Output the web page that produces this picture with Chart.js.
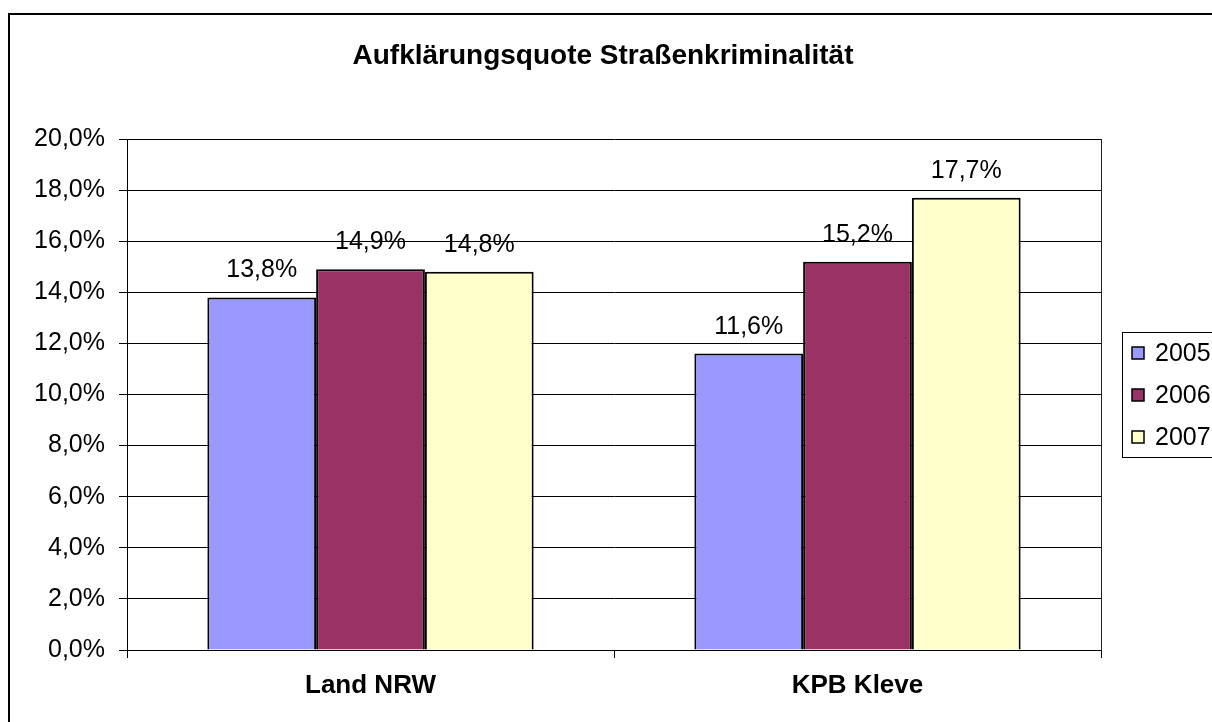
<!DOCTYPE html>
<html>
<head>
<meta charset="utf-8">
<script src="https://cdn.jsdelivr.net/npm/chart.js@4/dist/chart.umd.min.js"></script>
<style>
  body { margin: 0; background: #fff; }
  canvas { display: block; }
</style>
</head>
<body>
<canvas id="chart" width="1212" height="722"></canvas>
<script>
const chartCanvas = document.getElementById("chart");

// categories and years
const categories = ["Land NRW", "KPB Kleve"];
const years = ["2005", "2006", "2007"];

// quote in percent, one list per year
const values2005 = [13.8, 11.6];
const values2006 = [14.9, 15.2];
const values2007 = [14.8, 17.7];

// bar colors (excel default palette)
const barColors = ["#9999FF", "#993366", "#FFFFCC"];

const chartTitle = "Aufklärungsquote Straßenkriminalität";
const fontFamily = "'Liberation Sans', Arial, sans-serif";

const fmt = (v) => v.toFixed(1).replace(".", ",") + "%";

// labels above the bars
const valueLabels = {
  id: "valueLabels",
  afterDatasetsDraw(chart) {
    const ctx = chart.ctx;
    ctx.save();
    ctx.font = "25px " + fontFamily;
    ctx.fillStyle = "#000";
    ctx.textAlign = "center";
    ctx.textBaseline = "alphabetic";
    chart.data.datasets.forEach((ds, i) => {
      chart.getDatasetMeta(i).data.forEach((bar, j) => {
        ctx.fillText(fmt(ds.data[j]), bar.x, bar.y - 20);
      });
    });
    ctx.restore();
  },
};

// outer frame, title, plot frame and the legend box on the right
const frame = {
  id: "frame",
  beforeDraw(chart) {
    const ctx = chart.ctx;
    ctx.save();
    ctx.fillStyle = "#fff";
    ctx.fillRect(0, 0, chart.width, chart.height);
    ctx.strokeStyle = "#000";
    ctx.lineWidth = 2;
    ctx.strokeRect(9, 14, 1400, 900);

    // title is centred on the whole picture, not on the plot
    ctx.fillStyle = "#000";
    ctx.font = "bold 28px " + fontFamily;
    ctx.textAlign = "center";
    ctx.textBaseline = "alphabetic";
    ctx.fillText(chartTitle, 603, 64);
    ctx.restore();
  },
  afterDraw(chart) {
    const ctx = chart.ctx;
    const a = chart.chartArea;
    ctx.save();
    ctx.strokeStyle = "#222";
    ctx.lineWidth = 1;
    ctx.beginPath();
    ctx.moveTo(Math.round(a.right) + 0.5, a.top);
    ctx.lineTo(Math.round(a.right) + 0.5, a.bottom);
    ctx.stroke();

    // legend
    ctx.strokeStyle = "#000";
    ctx.strokeRect(1122.5, 332.5, 200, 125);
    ctx.font = "25px " + fontFamily;
    ctx.textBaseline = "middle";
    ctx.textAlign = "left";
    chart.data.datasets.forEach((ds, i) => {
      const cy = 353 + i * 42;
      ctx.fillStyle = ds.backgroundColor;
      ctx.fillRect(1132, cy - 6, 12, 12);
      ctx.strokeStyle = "#000";
      ctx.lineWidth = 1.5;
      ctx.strokeRect(1132, cy - 6, 12, 12);
      ctx.fillStyle = "#000";
      ctx.fillText(ds.label, 1155, cy + 1);
    });
    ctx.restore();
  },
};

let myChart = new Chart(chartCanvas, {
  type: "bar",
  plugins: [frame, valueLabels],
  data: {
    labels: categories,
    datasets: [
      { label: years[0], data: values2005, backgroundColor: barColors[0] },
      { label: years[1], data: values2006, backgroundColor: barColors[1] },
      { label: years[2], data: values2007, backgroundColor: barColors[2] },
    ].map((d) => ({
      ...d,
      borderColor: "#000",
      borderWidth: 2,
      categoryPercentage: 0.67,
      barPercentage: 1.0,
    })),
  },
  options: {
    responsive: false,
    animation: false,
    layout: { padding: { left: 0, right: 111, top: 139, bottom: 0 } },
    plugins: {
      legend: { display: false },
      tooltip: { enabled: false },
      title: { display: false },
    },
    scales: {
      x: {
        grid: {
          color: "#000",
          drawOnChartArea: false,
          drawTicks: true,
          tickLength: 8,
        },
        border: { color: "#000", width: 1 },
        ticks: {
          color: "#000",
          padding: 12,
          font: { family: fontFamily, size: 26, weight: "bold" },
        },
        afterFit: (scale) => { scale.height = 72; },
      },
      y: {
        min: 0,
        max: 20,
        grid: { color: "#000", tickLength: 8 },
        border: { color: "#000", width: 1 },
        ticks: {
          stepSize: 2,
          color: "#000",
          padding: 14,
          font: { family: fontFamily, size: 25 },
          callback: (v) => fmt(v),
        },
        afterFit: (scale) => { scale.width = 127; },
      },
    },
  },
});
</script>
</body>
</html>
